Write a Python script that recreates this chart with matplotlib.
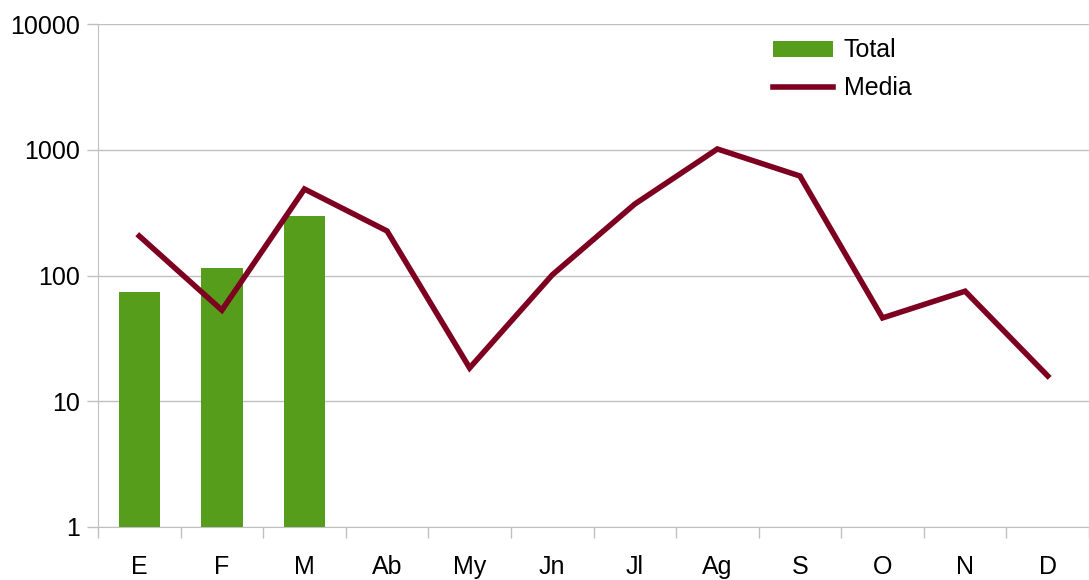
import matplotlib
matplotlib.use("Agg")
import matplotlib.pyplot as plt
import numpy as np

months = ["E", "F", "M", "Ab", "My", "Jn", "Jl", "Ag", "S", "O", "N", "D"]
total = [74, 115, 297]
media = [206, 53, 487, 226, 18.4, 101, 370, 1014, 618, 46, 75, 15.9]

plt.rcParams['font.family'] = ['Liberation Sans', 'DejaVu Sans']
grid_col = "#c0c0c0"
fs = 18

fig = plt.figure(figsize=(10.89, 5.8), dpi=100)
ax = fig.add_axes([98/1089, 53/580, 991/1089, 503/580])

x = np.arange(len(months))
bars = ax.bar(x[:len(total)], total, width=0.5, color="#579d1c", label="Total", zorder=2)
line, = ax.plot(x, media, color="#7e0021", linewidth=4, label="Media", zorder=3,
                solid_joinstyle="miter")

ax.set_yscale("log")
ax.set_ylim(1, 10000)
ax.set_xlim(-0.5, len(months) - 0.5)
ax.set_yticks([1, 10, 100, 1000, 10000])
ax.set_yticklabels(["1", "10", "100", "1000", "10000"])
ax.yaxis.set_minor_locator(matplotlib.ticker.NullLocator())
ax.grid(axis="y", color=grid_col, linewidth=1, zorder=0)

ax.set_xticks(np.arange(-0.5, len(months), 1.0))
ax.set_xticklabels([])
ax.set_xticks(x, minor=True)
ax.set_xticklabels(months, minor=True)
ax.tick_params(axis="x", which="major", length=8, color=grid_col, width=1)
ax.tick_params(axis="x", which="minor", length=0, pad=20, labelsize=fs)
ax.tick_params(axis="y", length=8, color=grid_col, width=1, labelsize=fs, pad=5)

for s in ["top", "right"]:
    ax.spines[s].set_visible(False)
for s in ["left", "bottom"]:
    ax.spines[s].set_color(grid_col)

ax.legend([bars, line], ["Total", "Media"], loc="upper left",
          bbox_to_anchor=(0.658, 1.016), frameon=False,
          fontsize=fs, handlelength=2.4, handleheight=0.6, labelspacing=0.55,
          handletextpad=0.45)

fig.savefig("out.png", dpi=100)
